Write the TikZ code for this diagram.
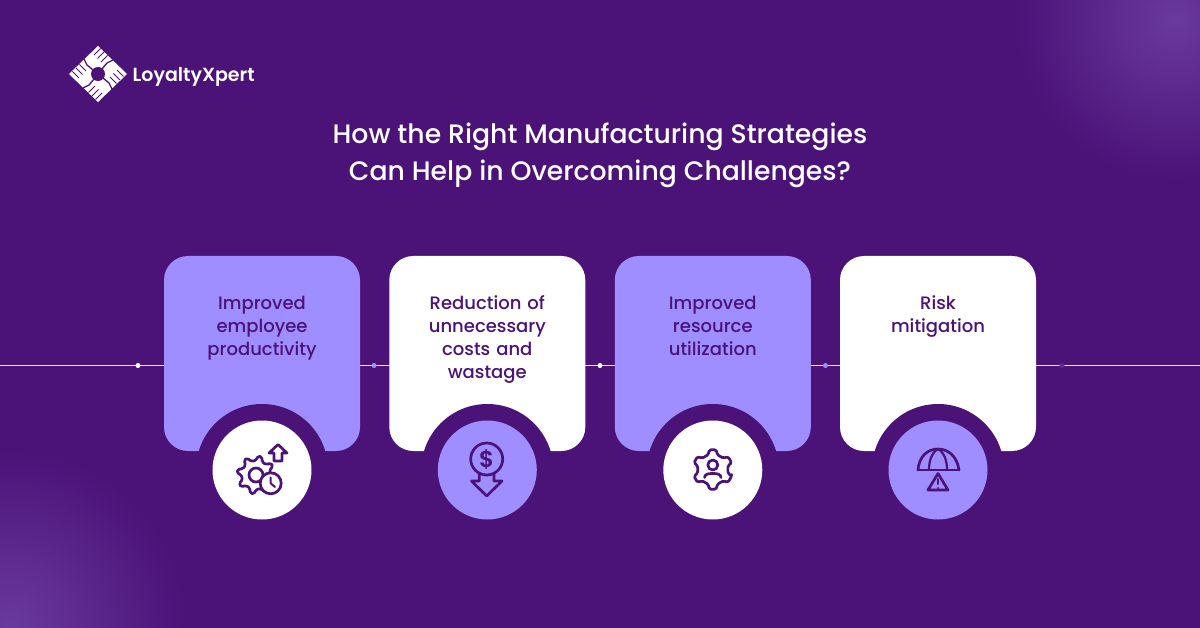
\documentclass[tikz,border=0pt]{standalone}
\usepackage{fontspec}
\setmainfont{Poppins}
\newfontfamily\popmed{Poppins Medium}
\newfontfamily\popsemi{Poppins SemiBold}
\usetikzlibrary{calc}
\definecolor{bgpurple}{HTML}{4B1278}
\definecolor{glowpurple}{HTML}{6A3A9E}
\definecolor{lavender}{HTML}{9E8EFF}
\tikzset{
  card/.style={rounded corners=24pt},
  cardtext/.style={text=bgpurple,font=\popmed\fontsize{18}{23}\selectfont,align=center,anchor=north,text width=150pt},
  titletext/.style={text=white,font=\popmed\fontsize{26.7}{36.5}\selectfont,align=center},
  dotmark/.style={circle,inner sep=0pt,minimum size=5pt},
  iconline/.style={draw=bgpurple,line width=2.7pt,line join=round,line cap=round},
  badge/.style={circle,inner sep=0pt,minimum size=99pt},
  notch/.style={circle,fill=bgpurple,inner sep=0pt,minimum size=132pt}
}
% Gear outline: rotation, centre, outer radius, teeth, tooth width
\newcommand{\gearpath}[5][0]{
  \draw[iconline,rounded corners=1.6pt]
    ($(#2)+({#1-90/#4*#5}:#3)$)
    \foreach \tooth in {1,...,#4}{
      -- ($(#2)+({#1+360/#4*(\tooth-1)+90/#4*#5}:#3)$)
      -- ($(#2)+({#1+360/#4*(\tooth-1)+90/#4*1.1}:#3-4.5)$)
      -- ($(#2)+({#1+360/#4*\tooth-90/#4*1.1}:#3-4.5)$)
      -- ($(#2)+({#1+360/#4*\tooth-90/#4*#5}:#3)$)
    } -- cycle;
}
\begin{document}
\begin{tikzpicture}[x=1pt,y=-1pt]
  \useasboundingbox (0,0) rectangle (1200,628);
  \fill[bgpurple] (0,0) rectangle (1200,628);

  % Corner glows
  \begin{scope}
    \clip (0,0) rectangle (1200,628);
    \shade[inner color=glowpurple,outer color=bgpurple] (1175,20) circle (160);
    \shade[inner color=glowpurple,outer color=bgpurple] (10,625) circle (175);
  \end{scope}

  % Logo
  \begin{scope}[shift={(98,74)}]
    \fill[white] (-29,0) -- (0,-28) -- (29,0) -- (0,28) -- cycle;
    \foreach \ang in {0,90,180,270}{
      \begin{scope}[rotate=\ang]
        \foreach \off in {2.5,6,9.5}{
          \draw[bgpurple,line width=1pt] (\off,-28+\off) -- ++(-6.5,6.5);
        }
        \draw[bgpurple,line width=1.3pt] (4,-5) -- (9,-11) -- (15,-14);
      \end{scope}
    }
    \fill[bgpurple] (0,0) circle (7);
  \end{scope}
  \node[text=white,font=\popsemi\fontsize{19}{20}\selectfont,anchor=west,inner sep=0pt] (logotext) at (132.5,76.5) {LoyaltyXpert};

  % Title
  \node[titletext] (title) at (600,155.5) {How the Right Manufacturing Strategies\\Can Help in Overcoming Challenges?};

  % Timeline
  \coordinate (lineL) at (0,365.5);
  \coordinate (lineR) at (1200,365.5);
  \draw[white!75!lavender,line width=1pt] (lineL) -- (lineR);
  \node[dotmark,fill=white] (dotA) at (138,365.5) {};
  \node[dotmark,fill=lavender] (dotB) at (374,365.5) {};
  \node[dotmark,fill=white] (dotC) at (600,365.5) {};
  \node[dotmark,fill=lavender] (dotD) at (825.5,365.5) {};
  \node[dotmark,fill=bgpurple!80!lavender] (dotE) at (1062,365.5) {};

  % Cards
  \foreach \name/\xx/\cardcol/\badgecol in {A/164/lavender/white,B/389.3/white/lavender,C/614.8/lavender/white,D/840/white/lavender}{
    \fill[\cardcol,card] (\xx,256) rectangle ++(196,195);
    \node[notch] (notch\name) at (\xx+98,470) {};
    \node[badge,fill=\badgecol] (badge\name) at (\xx+98,470) {};
  }

  % Card labels
  \node[cardtext] (textA) at (262,292.5) {Improved\\employee\\productivity};
  \node[cardtext] (textB) at (487.3,292.5) {Reduction of\\unnecessary\\costs and\\wastage};
  \node[cardtext] (textC) at (712.8,292.5) {Improved\\resource\\utilization};
  \node[cardtext] (textD) at (938,292.5) {Risk\\mitigation};

  % Icon: gear, clock, arrow up
  \coordinate (gearA) at (256,475);
  \gearpath[12]{gearA}{19}{8}{0.55}
  \draw[iconline] (gearA) circle (7);
  \draw[iconline,fill=white] (270.7,483.3) circle (10.5);
  \draw[iconline,line width=2pt] (270.7,477.5) -- (270.7,483.3) -- (275,487);
  \draw[iconline] (274,461) -- (274,453) -- (269,453) -- (278,444.5) -- (287,453) -- (282,453) -- (282,461) -- cycle;

  % Icon: coin, arrow down
  \draw[iconline] (486.7,459) circle (16);
  \node[text=bgpurple,font=\popsemi\fontsize{23}{23}\selectfont,inner sep=0pt] (dollar) at (486.7,459.5) {\$};
  \draw[iconline] (479.3,474.5) -- (479.3,481) -- (471.5,481) -- (486.7,496) -- (502,481) -- (494,481) -- (494,474.5);

  % Icon: gear, person
  \coordinate (gearC) at (712.8,469.5);
  \gearpath[30]{gearC}{20}{6}{0.7}
  \draw[iconline] (712.8,465) circle (5);
  \draw[iconline] (704.5,477.5) .. controls (705,474) and (708,473.5) .. (712.8,473.5) .. controls (717.5,473.5) and (720.5,474) .. (721,477.5);

  % Icon: umbrella, warning
  \draw[iconline] (918,470) .. controls (919,456) and (928,449) .. (938,449) .. controls (948,449) and (957,456) .. (959,470);
  \draw[iconline] (918,470) -- (959,470);
  \draw[iconline,line width=2.2pt] (938,449) .. controls (931,453) and (929,462) .. (929,470);
  \draw[iconline,line width=2.2pt] (938,449) .. controls (945,453) and (947,462) .. (947,470);
  \draw[iconline] (938,473.5) -- (928,490) -- (948,490) -- cycle;
  \draw[iconline,line width=2pt] (938,479) -- (938,484);
  \fill[bgpurple] (938,488) circle (1);
\end{tikzpicture}
\end{document}
